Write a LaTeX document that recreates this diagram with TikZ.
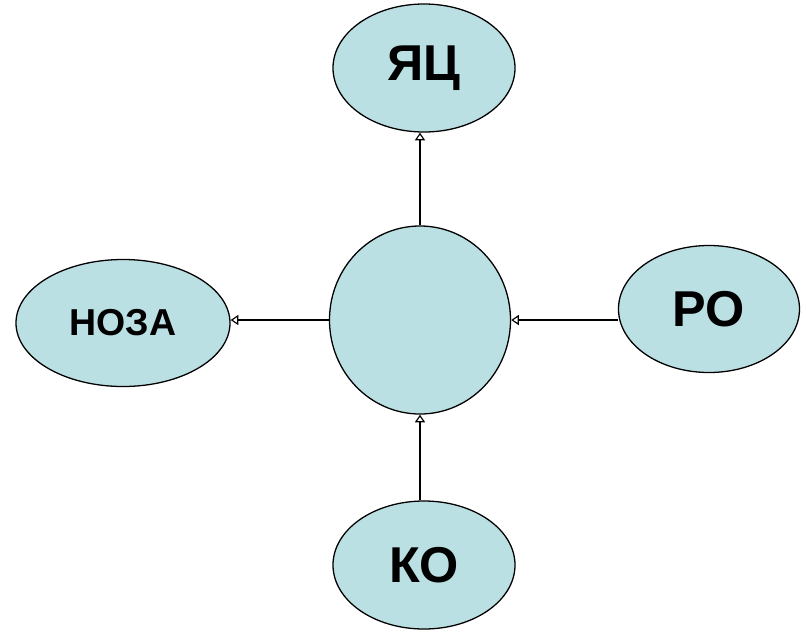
\documentclass[tikz,border=0pt]{standalone}
\usepackage{fontspec}
\setmainfont{Liberation Sans}
\usetikzlibrary{shapes.geometric,arrows.meta}
\definecolor{cellblue}{RGB}{187,224,227}

\begin{document}
\begin{tikzpicture}[x=0.03cm,y=-0.03cm,
  blob/.style={ellipse,draw=black,line width=1.1pt,fill=cellblue,inner sep=0pt,font=\bfseries\fontsize{43}{50}\selectfont},
  link/.style={line width=1.6pt,-{Triangle[open,length=6.5pt,width=8.5pt,line width=1pt]}}]
\useasboundingbox (0,0) rectangle (806,631);
\node[blob,minimum width=5.46cm,minimum height=3.84cm] (yac) at (424,68) {ЯЦ};
\node[blob,minimum width=5.43cm,minimum height=5.64cm] (cell) at (420,320) {};
\node[blob,minimum width=6.42cm,minimum height=3.81cm,font=\bfseries\fontsize{32}{38}\selectfont] (noza) at (123,323) {НОЗА};
\node[blob,minimum width=5.43cm,minimum height=3.81cm] (ro) at (709,309) {РО};
\node[blob,minimum width=5.46cm,minimum height=3.84cm] (ko) at (424,565) {КО};
\draw[link] (cell.north) -- (cell.north |- yac.south);
\draw[link] (cell.west) -- (cell.west -| noza.east);
\draw[link] (ro.west |- cell.east) -- (cell.east);
\draw[link] (cell.south |- ko.north) -- (cell.south);
\end{tikzpicture}
\end{document}
